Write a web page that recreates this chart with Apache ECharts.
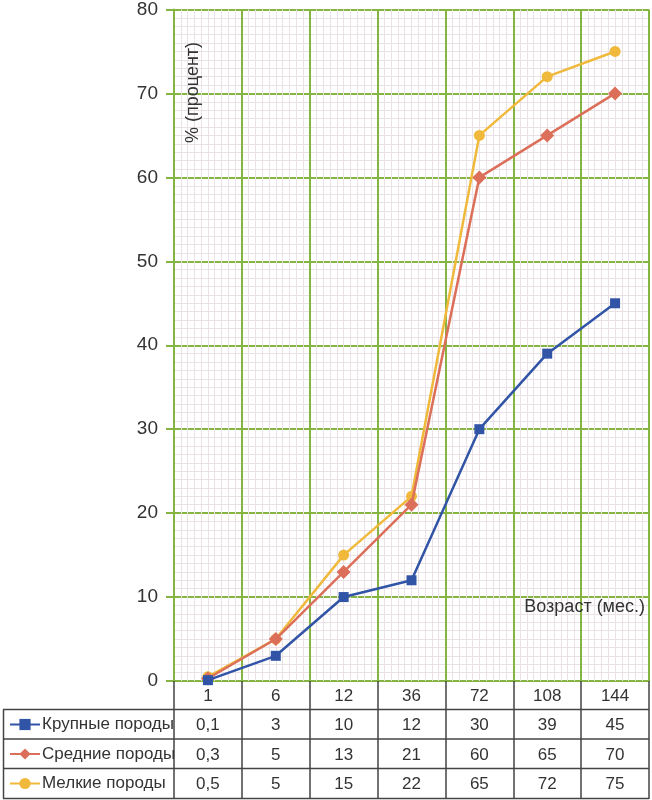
<!DOCTYPE html>
<html>
<head>
<meta charset="utf-8">
<script src="https://cdn.jsdelivr.net/npm/echarts@6/dist/echarts.min.js"></script>
<style>html,body{margin:0;padding:0;background:#fff;}#c{width:652px;height:800px;}</style>
</head>
<body>
<div id="c"></div>
<script>
var categories = ['1', '6', '12', '36', '72', '108', '144'];
var seriesNames = ['Крупные породы', 'Средние породы', 'Мелкие породы'];
var largeBreeds = [0.1, 3, 10, 12, 30, 39, 45];
var mediumBreeds = [0.3, 5, 13, 21, 60, 65, 70];
var smallBreeds = [0.5, 5, 15, 22, 65, 72, 75];
var yTicks = [0, 10, 20, 30, 40, 50, 60, 70, 80];
var yTitle = '% (процент)';
var xTitle = 'Возраст (мес.)';

var FONT = 'Liberation Sans, Arial, sans-serif';
var GREEN = '#86b443';
var MINOR = '#e9e1e5';
var TXT = '#333';
function fmt(v){ return String(v).replace('.', ','); }

var rowTops = [710, 739.5, 769];
var legends = seriesNames.map(function (n, i) {
  return {
    orient: 'vertical',
    left: 9,
    top: rowTops[i],
    padding: 0,
    itemWidth: 30,
    itemHeight: 14,
    height: 30,
    data: [n],
    textStyle: { fontFamily: FONT, fontSize: 17, color: TXT, padding: [0, 0, 0, -3], lineHeight: 29, height: 29 }
  };
});

var chart = echarts.init(document.getElementById('c'));
var option = {
  backgroundColor: '#fff',
  animation: false,
  textStyle: { fontFamily: FONT },
  grid: { left: 174, right: 3, top: 8, bottom: 119, containLabel: false },
  legend: legends,
  xAxis: [{
    type: 'category',
    data: categories,
    boundaryGap: true,
    axisLine: { show: false },
    axisTick: { show: true, interval: 0, length: 118, lineStyle: { color: '#444', width: 1.5 } },
    splitLine: { show: false },
    axisLabel: {
      interval: 0,
      margin: 1,
      formatter: function (v, i) {
        return '{h|' + v + '}\n{v|' + fmt(largeBreeds[i]) + '}\n{v|' + fmt(mediumBreeds[i]) + '}\n{v|' + fmt(smallBreeds[i]) + '}';
      },
      rich: {
        h: { fontFamily: FONT, fontSize: 17, color: TXT, lineHeight: 29, height: 29 },
        v: { fontFamily: FONT, fontSize: 17, color: TXT, lineHeight: 29.3, height: 29.3 }
      }
    }
  }, {
    type: 'value',
    min: 0, max: 7, interval: 1,
    position: 'top',
    axisLine: { show: false },
    axisTick: { show: false },
    axisLabel: { show: false },
    splitLine: { show: true, lineStyle: { color: GREEN, width: 2 } },
    minorTick: { show: false, splitNumber: 10 },
    minorSplitLine: { show: true, lineStyle: { color: MINOR, width: 1 } }
  }],
  yAxis: {
    type: 'value',
    min: yTicks[0], max: yTicks[yTicks.length - 1], interval: 10,
    axisLine: { show: true, lineStyle: { color: GREEN, width: 2 } },
    axisTick: { show: true, length: 8, lineStyle: { color: GREEN, width: 2 } },
    axisLabel: { margin: 16, fontFamily: FONT, fontSize: 19, color: TXT },
    splitLine: { show: true, lineStyle: { color: GREEN, width: 2 } },
    minorTick: { show: false, splitNumber: 10 },
    minorSplitLine: { show: true, lineStyle: { color: MINOR, width: 1 } }
  },
  series: [{
    name: seriesNames[2], type: 'line', data: smallBreeds, xAxisIndex: 0,
    symbol: 'circle', symbolSize: 11, color: '#f0b93b',
    lineStyle: { width: 2.5, color: '#f0b93b' }, itemStyle: { color: '#f0b93b' }, z: 3
  }, {
    name: seriesNames[1], type: 'line', data: mediumBreeds, xAxisIndex: 0,
    symbol: 'diamond', symbolSize: 14, color: '#dc6f5a',
    lineStyle: { width: 2.5, color: '#dc6f5a' }, itemStyle: { color: '#dc6f5a' }, z: 4
  }, {
    name: seriesNames[0], type: 'line', data: largeBreeds, xAxisIndex: 0,
    symbol: 'rect', symbolSize: 10, color: '#3154a6',
    lineStyle: { width: 2.5, color: '#3154a6' }, itemStyle: { color: '#3154a6' }, z: 5
  }],
  graphic: [
    { type: 'line', shape: { x1: 3, y1: 709.5, x2: 649, y2: 709.5 }, style: { stroke: '#444', lineWidth: 1.5 } },
    { type: 'line', shape: { x1: 3, y1: 739, x2: 649, y2: 739 }, style: { stroke: '#444', lineWidth: 1.5 } },
    { type: 'line', shape: { x1: 3, y1: 768.5, x2: 649, y2: 768.5 }, style: { stroke: '#444', lineWidth: 1.5 } },
    { type: 'line', shape: { x1: 3, y1: 798.5, x2: 649, y2: 798.5 }, style: { stroke: '#444', lineWidth: 1.5 } },
    { type: 'line', shape: { x1: 3.5, y1: 709.5, x2: 3.5, y2: 798.5 }, style: { stroke: '#444', lineWidth: 1.5 } },
    { type: 'text', x: 193, y: 143, rotation: Math.PI / 2, z: 10,
      style: { text: yTitle, font: '18px ' + FONT, fill: TXT, textAlign: 'left', textVerticalAlign: 'middle' } },
    { type: 'text', x: 645, y: 607, z: 10,
      style: { text: xTitle, font: '18px ' + FONT, fill: TXT, textAlign: 'right', textVerticalAlign: 'middle' } }
  ]
};
chart.setOption(option);
</script>
</body>
</html>
